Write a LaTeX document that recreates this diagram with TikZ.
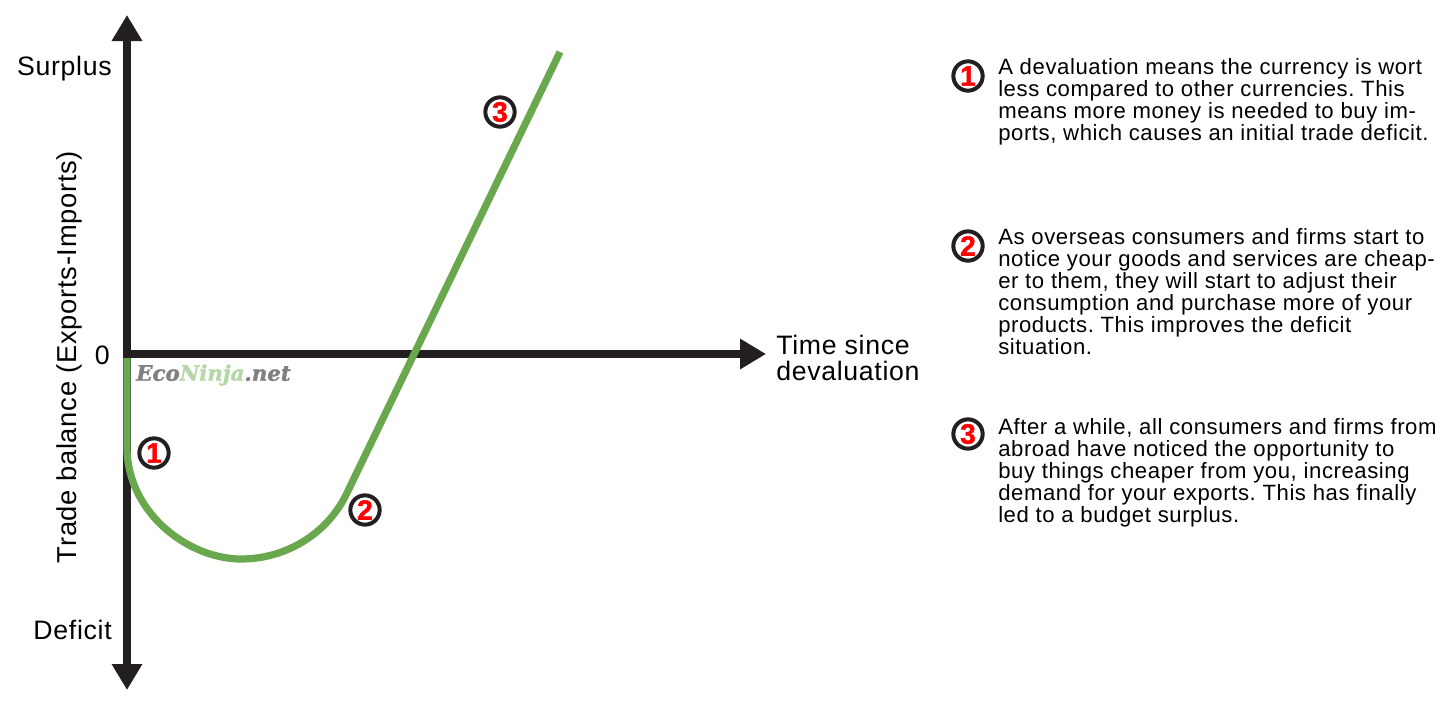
\documentclass[tikz,border=0pt]{standalone}
\usepackage{fontspec}
\setmainfont[LetterSpace=2.6,BoldFeatures={FakeBold=1.5}]{Liberation Sans}
\newfontfamily\logofont[BoldItalicFeatures={FakeBold=1.6}]{DejaVu Serif}
\usetikzlibrary{arrows.meta}
\definecolor{ink}{HTML}{231F20}
\definecolor{curvegreen}{HTML}{6AA84F}
\definecolor{logogray}{HTML}{808080}
\definecolor{logogreen}{HTML}{B6D7A8}
\tikzset{
  x=0.75pt,y=-0.75pt,
  axisline/.style={draw=ink,line width=5.4pt,-{Triangle[length=19.5pt,width=21.75pt]}},
  badge/.style={circle,draw=ink,line width=3pt,fill=white,minimum size=22pt,inner sep=0pt,text=red,font=\fontsize{21pt}{21pt}\selectfont\bfseries},
  para/.style={anchor=north west,inner sep=0pt,align=left,font=\fontsize{16.6pt}{16.5pt}\selectfont\frenchspacing,text=black},
  axislabel/.style={inner sep=0pt,font=\fontsize{20pt}{19.5pt}\selectfont,text=black},
}
\begin{document}
\begin{tikzpicture}
\useasboundingbox (0,0) rectangle (1456,704);
\coordinate (o) at (127,354);
\coordinate (top) at (127,15);
\coordinate (bot) at (127,690);
\coordinate (right) at (766,354);
\coordinate (c0) at (127,358);
\coordinate (c1) at (127,450);
\coordinate (c2) at (241,559);
\coordinate (c3) at (345,497);
\coordinate (c4) at (560,52);
\draw[axisline] (o) -- (top);
\draw[axisline] (o) -- (bot);
\draw[axisline] ([xshift=-2.6pt]o) -- (right);
\draw[curvegreen,line width=5.4pt]
  (c0) -- (c1) .. controls (129,515) and (190,559) .. (c2)
  .. controls (285,559) and (325,535) .. (c3) -- (c4);
\node[axislabel,anchor=east] (surplus) at (112,68.5) {Surplus};
\node[axislabel,anchor=east] (deficit) at (112,630) {Deficit};
\node[axislabel,anchor=east] (zero) at (110,355) {0};
\node[axislabel,anchor=west,align=left] (time) at (776,358) {Time since\\devaluation};
\node[axislabel,rotate=90,font=\fontsize{20.5pt}{20.5pt}\selectfont] (ylab) at (69,357) {Trade balance (Exports-Imports)};
\node[inner sep=0pt,anchor=west,font=\logofont\bfseries\itshape\fontsize{16pt}{16pt}\selectfont] (logo) at (136,375)
  {\textcolor{logogray}{Eco}\textcolor{logogreen}{Ninja}\textcolor{logogray}{.net}};
\node[badge] (n1) at (154,453) {1};
\node[badge] (n2) at (365,510) {2};
\node[badge] (n3) at (500,112) {3};
\node[badge] (k1) at (968,76) {1};
\node[badge] (k2) at (968,246) {2};
\node[badge] (k3) at (968,434) {3};
\node[para] (p1) at (998,58) {A devaluation means the currency is wort\\less compared to other currencies. This\\means more money is needed to buy im-\\ports, which causes an initial trade deficit.};
\node[para] (p2) at (998,228) {As overseas consumers and firms start to\\notice your goods and services are cheap-\\er to them, they will start to adjust their\\consumption and purchase more of your\\products. This improves the deficit\\situation.};
\node[para] (p3) at (998,418) {After a while, all consumers and firms from\\abroad have noticed the opportunity to\\buy things cheaper from you, increasing\\demand for your exports. This has finally\\led to a budget surplus.};
\end{tikzpicture}
\end{document}
